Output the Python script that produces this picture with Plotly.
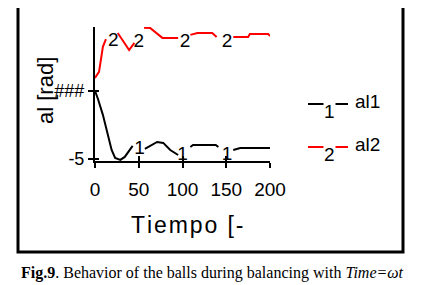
import plotly.graph_objects as go

# ---- data ----
t_al1 = [0, 3.4, 9, 15, 19, 23, 29, 34, 40, 43, None, 57, 63, 71, 78, 86, 95, None,
         109, 112, 138, 141, None, 158, 166, 198, 200]
al1 = [0, -0.59, -1.76, -3.24, -4.34, -4.93, -5.07, -4.85, -4.34, -4.04, None, -4.26, -4.04,
       -3.75, -3.82, -4.34, -4.71, None, -4.12, -3.97, -3.97, -4.12, None, -4.34, -4.19,
       -4.19, -4.19]

t_al2 = [0, 4.6, 9, 12.5, None, 26, 33, 39, 45, None, 56, 63, 77, 95, None,
         109, 117, 134, 139, None, 158, 175, 177, 198, 200]
al2 = [0.96, 1.40, 3.24, 3.80, None, 4.26, 3.60, 3.01, 3.53, None, 4.65, 4.63, 3.90, 3.90,
       None, 4.12, 4.26, 4.26, 3.97, None, 3.97, 3.97, 4.19, 4.19, 4.04]

lab1_t = [51, 100, 151]
lab1_y = [-4.25, -4.75, -4.75]
lab2_t = [21, 50, 103, 151]
lab2_y = [3.66, 3.58, 3.58, 3.58]

x_tickvals = [0, 50, 100, 150, 200]
x_ticktext = ["0", "50", "100", "150", "200"]
y_tickvals = [-5, 0]
y_ticktext = ["-5", "###"]

series_names = ["al1", "al2"]
series_marks = ["1", "2"]
series_colors = ["black", "red"]

SANS = "Liberation Sans, Arial"

# the page body has an 8px margin; work in reference pixels and shift
OFF = 8
W, H = 422 - OFF, 285 - OFF
L, R, T, B = 95 - OFF, 270 - OFF, 27 - OFF, 161 - OFF

fig = go.Figure()
fig.add_trace(go.Scatter(x=t_al1, y=al1, mode="lines", line=dict(color="black", width=2),
                         connectgaps=False, showlegend=False))
fig.add_trace(go.Scatter(x=t_al2, y=al2, mode="lines", line=dict(color="red", width=2),
                         connectgaps=False, showlegend=False))
fig.add_trace(go.Scatter(x=lab1_t, y=lab1_y, mode="text", text=["1"] * len(lab1_t),
                         textfont=dict(family=SANS, size=19, color="black"),
                         textposition="middle center", showlegend=False))
fig.add_trace(go.Scatter(x=lab2_t, y=lab2_y, mode="text", text=["2"] * len(lab2_t),
                         textfont=dict(family=SANS, size=19, color="black"),
                         textposition="middle center", showlegend=False))
fig.add_trace(go.Scatter(x=[None], y=[None], xaxis="x2", yaxis="y2", showlegend=False,
                         hoverinfo="skip"))

fig.update_layout(
    width=W, height=H,
    margin=dict(l=L, r=W - R, t=T, b=H - B, pad=0),
    paper_bgcolor="white", plot_bgcolor="white",
    showlegend=False,
    xaxis=dict(range=[0, 200], tickvals=x_tickvals, ticktext=x_ticktext,
               showgrid=False, zeroline=False, showline=True, linecolor="black", linewidth=2,
               ticks="outside", ticklen=5, tickwidth=2, tickcolor="black",
               tickfont=dict(family=SANS, size=19, color="black"),
               ticklabelstandoff=5),
    yaxis=dict(range=[-5.15, 4.7], tickvals=y_tickvals, ticktext=y_ticktext,
               showgrid=False, zeroline=False, showline=True, linecolor="black", linewidth=2,
               ticks="outside", ticklen=5, tickwidth=2, tickcolor="black",
               tickfont=dict(family=SANS, size=18, color="black"),
               ticklabelstandoff=0),
    xaxis2=dict(range=[0, 200], tickvals=x_tickvals, overlaying="x", anchor="y", side="bottom",
                showgrid=False, zeroline=False, showline=False, showticklabels=False,
                ticks="inside", ticklen=5, tickwidth=2, tickcolor="black"),
    yaxis2=dict(range=[-5.15, 4.7], tickvals=y_tickvals, overlaying="y", anchor="x", side="left",
                showgrid=False, zeroline=False, showline=False, showticklabels=False,
                ticks="inside", ticklen=4, tickwidth=2, tickcolor="black"),
)


def px2paper(px, py):
    px -= OFF
    py -= OFF
    return (px - L) / (R - L), (B - py) / (B - T)


# border box
x0, y1 = px2paper(18, 5)
x1, y0 = px2paper(403, 252)
fig.add_shape(type="rect", xref="paper", yref="paper", x0=x0, y0=y0, x1=x1, y1=y1,
              line=dict(color="black", width=3), layer="below")

# custom legend
legend_py = [104, 147]
for name, mark, color, py in zip(series_names, series_marks, series_colors, legend_py):
    lx0, ly = px2paper(308, py)
    lx1, _ = px2paper(348, py)
    fig.add_shape(type="line", xref="paper", yref="paper", x0=lx0, x1=lx1, y0=ly, y1=ly,
                  line=dict(color=color, width=2))
    mx, my = px2paper(329, py + 7)
    fig.add_annotation(xref="paper", yref="paper", x=mx, y=my, text=mark, showarrow=False,
                       font=dict(family=SANS, size=19, color="black"), bgcolor="white",
                       borderpad=0, xanchor="center", yanchor="middle")
    tx, ty = px2paper(353, py - 3)
    fig.add_annotation(xref="paper", yref="paper", x=tx, y=ty, text=name, showarrow=False,
                       font=dict(family=SANS, size=19, color="black"),
                       xanchor="left", yanchor="middle")

# axis titles
ax, ay = px2paper(45, 91)
fig.add_annotation(xref="paper", yref="paper", x=ax, y=ay, text="al [rad]", textangle=-90,
                   showarrow=False, font=dict(family=SANS, size=22, color="black"),
                   xanchor="center", yanchor="middle")
bx, by = px2paper(187, 225)
hs = "\u200a"
fig.add_annotation(xref="paper", yref="paper", x=bx, y=by, text=hs.join("Tiempo [-"),
                   showarrow=False, font=dict(family=SANS, size=23, color="black"),
                   xanchor="center", yanchor="middle")

# caption
cx, cy = px2paper(212, 273)
fig.add_annotation(xref="paper", yref="paper", x=cx, y=cy,
                   text="<b>Fig.9</b>. Behavior of the balls during balancing with <i>Time=ωt</i>",
                   showarrow=False, font=dict(family="Liberation Serif, Times New Roman", size=16,
                                              color="black"),
                   xanchor="center", yanchor="middle")

fig.write_html("out.html")
